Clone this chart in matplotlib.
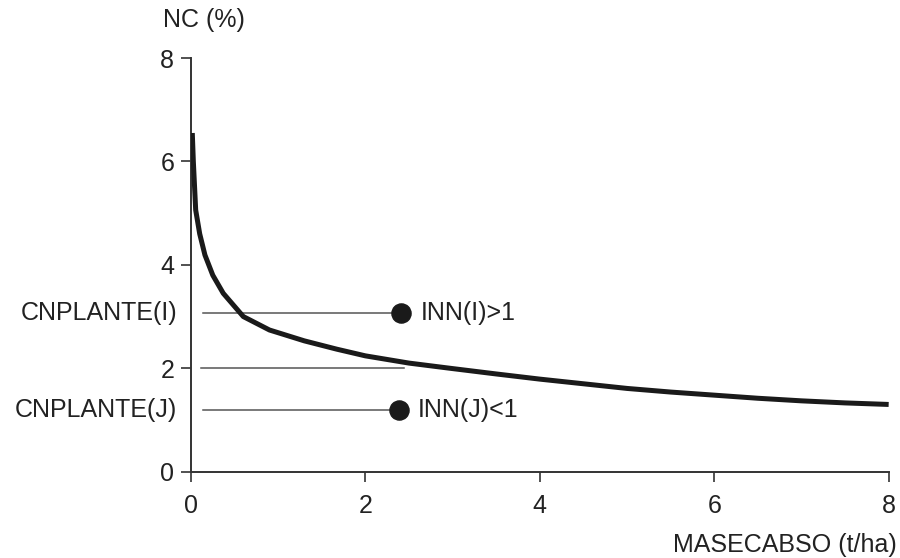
import matplotlib
matplotlib.use("Agg")
import matplotlib.pyplot as plt

# Critical nitrogen dilution curve
biomass = [0.015, 0.027, 0.054, 0.1, 0.16, 0.25, 0.37, 0.6, 0.9, 1.3, 1.67, 2.0, 2.5, 2.97, 3.5, 4.0, 4.5, 5.0, 5.5, 6.0, 6.5, 7.0, 7.5, 8.0]
nc_crit = [6.55, 6.0, 5.06, 4.6, 4.19, 3.8, 3.45, 3.0, 2.74, 2.53, 2.37, 2.24, 2.1, 2.0, 1.89, 1.79, 1.70, 1.61, 1.54, 1.48, 1.42, 1.37, 1.33, 1.30]

# Reference lines and plant points
line_x0 = 0.14
plant_labels = ["CNPLANTE(I)", "CNPLANTE(J)"]
plant_x = [2.41, 2.38]
plant_y = [3.06, 1.19]
inn_labels = ["INN(I)>1", "INN(J)<1"]
crit_line_y = 2.0
crit_line_x1 = 2.44

xticks = [0, 2, 4, 6, 8]
yticks = [0, 2, 4, 6, 8]

plt.rcParams['font.family'] = ['Liberation Sans', 'DejaVu Sans']
fig = plt.figure(figsize=(9, 5.58), dpi=100)
ax = fig.add_axes([0.2122, 0.1547, 0.7752, 0.7413])

spine_col = '#333333'
txt_col = '#222222'
fs = 18
ax.plot(biomass, nc_crit, color='#1a1a1a', lw=3.6, solid_capstyle='butt', zorder=3)

# horizontal lines
line_col = '#555555'
for px, py in zip(plant_x, plant_y):
    ax.plot([line_x0, px], [py, py], color=line_col, lw=1.1, zorder=2)
ax.plot([line_x0 - 0.02, crit_line_x1], [crit_line_y, crit_line_y], color=line_col, lw=1.1, zorder=2)

ax.scatter(plant_x, plant_y, s=190, color='#1a1a1a', zorder=4)

for px, py, lab in zip(plant_x, plant_y, inn_labels):
    ax.annotate(lab, xy=(px, py), xytext=(14, 0), textcoords='offset points',
                ha='left', va='center', fontsize=fs, color=txt_col)

for py, lab in zip(plant_y, plant_labels):
    ax.annotate(lab, xy=(0, py), xycoords=('axes fraction', 'data'),
                xytext=(-10, 0), textcoords='offset points',
                ha='right', va='center', fontsize=fs, color=txt_col)

ax.set_xlim(0, 8)
ax.set_ylim(0, 8)
ax.set_xticks(xticks)
ax.set_yticks(yticks)
ax.spines['top'].set_visible(False)
ax.spines['right'].set_visible(False)
for s in ['left', 'bottom']:
    ax.spines[s].set_color(spine_col)
    ax.spines[s].set_linewidth(1.4)
ax.tick_params(direction='out', length=7, width=1.2, color=spine_col,
               labelsize=fs, labelcolor=txt_col, pad=5)
ax.tick_params(axis='x', pad=9)

fig.text(204 / 900, 1 - 20 / 558, "NC (%)", ha='center', va='center', fontsize=fs, color=txt_col)
fig.text(897 / 900, 1 - 545 / 558, "MASECABSO (t/ha)", ha='right', va='center', fontsize=fs, color=txt_col)

fig.savefig("out.png", dpi=100)
